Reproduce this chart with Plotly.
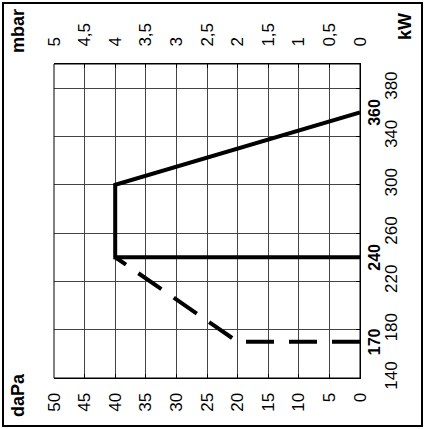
import plotly.graph_objects as go

# ---- data ----
dapa_ticks = [0, 5, 10, 15, 20, 25, 30, 35, 40, 45, 50]
mbar_ticks = [0, 0.5, 1, 1.5, 2, 2.5, 3, 3.5, 4, 4.5, 5]
mbar_labels = ["0", "0,5", "1", "1,5", "2", "2,5", "3", "3,5", "4", "4,5", "5"]
kw_ticks = [140, 180, 220, 260, 300, 340, 380]

# working field (pressure daPa, power kW)
solid_dapa = [0, 40, 40, 0]
solid_kw = [360, 300, 240, 240]
dash_dapa = [0, 20, 40]
dash_kw = [170, 170, 240]
marked_kw = [360, 240, 170]

W, H = 425, 429
L, R, T, B = 54, 360, 64, 378
FONT = "Arial"

fig = go.Figure()
fig.add_trace(go.Scatter(x=solid_dapa, y=solid_kw, mode="lines",
                         line=dict(color="black", width=4), showlegend=False))
fig.add_trace(go.Scatter(x=dash_dapa, y=dash_kw, mode="lines",
                         line=dict(color="black", width=4, dash="28px,15px"),
                         showlegend=False))
# invisible trace to activate the top axis
fig.add_trace(go.Scatter(x=[0, 5], y=[140, 140], xaxis="x2", mode="lines",
                         line=dict(width=0), hoverinfo="skip", showlegend=False))

axis_common = dict(showline=True, linecolor="black", linewidth=1, mirror=False,
                   ticks="inside", ticklen=4, tickcolor="black",
                   gridcolor="#444444", gridwidth=1, zeroline=False,
                   tickfont=dict(family=FONT, size=17, color="black"))

fig.update_layout(
    width=W, height=H,
    margin=dict(l=L, r=W - R, t=T, b=H - B, pad=0),
    paper_bgcolor="white", plot_bgcolor="white",
    xaxis=dict(range=[50, 0], tickvals=dapa_ticks, tickangle=-90,
               showgrid=True, ticklabelstandoff=7, **axis_common),
    xaxis2=dict(range=[5, 0], tickvals=mbar_ticks, ticktext=mbar_labels,
                overlaying="x", side="top", tickangle=-90, showgrid=False,
                ticklabelstandoff=13, **axis_common),
    yaxis=dict(range=[140, 400], tickvals=kw_ticks, side="right", tickangle=-90,
               showgrid=True, ticklabelstandoff=16, **axis_common),
)

# plot border
fig.add_shape(type="rect", xref="paper", yref="paper", x0=0, x1=1, y0=0, y1=1,
              line=dict(color="black", width=1), layer="above")

def px(xp):
    return (xp - L) / (R - L)

def py(yp):
    return (B - yp) / (B - T)

# outer frame
fig.add_shape(type="rect", xref="paper", yref="paper",
              x0=px(3), x1=px(422), y0=py(426), y1=py(3),
              line=dict(color="black", width=2))

ann = []
for text, xx, yy in [("mbar", 18, 31), ("daPa", 18, 395), ("kW", 405, 27)]:
    ann.append(dict(text="<b>%s</b>" % text, xref="paper", yref="paper",
                    x=px(xx), y=py(yy), showarrow=False, textangle=-90,
                    xanchor="center", yanchor="middle",
                    font=dict(family=FONT, size=18, color="black")))
for v in marked_kw:
    ann.append(dict(text="<b>%d</b>" % v, xref="paper", yref="y",
                    x=1, y=v, showarrow=False, textangle=-90,
                    xanchor="left", yanchor="middle", xshift=4,
                    font=dict(family=FONT, size=16, color="black")))
fig.update_layout(annotations=ann)

fig.write_html("out.html", config={"displayModeBar": False},
               post_script="document.body.style.margin='0';")
